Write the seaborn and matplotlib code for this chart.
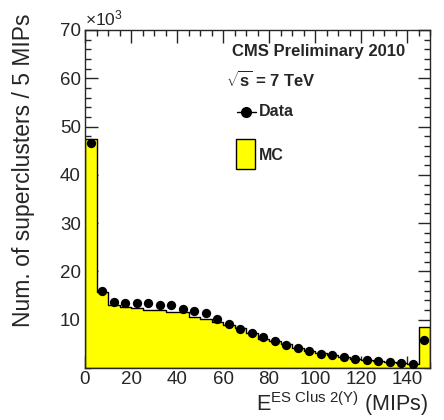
import numpy as np
import pandas as pd
import matplotlib
matplotlib.use('Agg')
import matplotlib.pyplot as plt
import seaborn as sns
from matplotlib.ticker import MultipleLocator
from matplotlib.patches import Rectangle
from matplotlib.lines import Line2D

# bins of 5 MIPs, 0 - 150
bin_edges = np.arange(0, 155, 5)
bin_centers = bin_edges[:-1] + 2.5

# counts in units of 10^3
mc_counts = [47.5, 15.8, 13.0, 12.6, 12.4, 12.1, 12.0, 11.7, 11.5, 10.6,
             10.1, 9.6, 8.9, 8.2, 7.2, 6.1, 5.6, 4.9, 4.2, 3.6,
             3.1, 2.7, 2.3, 1.95, 1.65, 1.4, 1.2, 1.0, 0.85, 8.5]
data_counts = [46.6, 15.9, 13.6, 13.4, 13.4, 13.4, 13.0, 13.0, 12.3, 11.9,
               11.3, 10.1, 9.2, 8.1, 7.3, 6.35, 5.5, 4.8, 4.1, 3.45,
               3.0, 2.6, 2.2, 1.85, 1.6, 1.4, 1.2, 0.97, 0.83, 5.8]

df = pd.DataFrame({"E": bin_centers, "mc": mc_counts, "data": data_counts})

sns.set_style("ticks")
plt.rcParams['font.family'] = ['Liberation Sans', 'DejaVu Sans']
plt.rcParams['mathtext.fontset'] = 'custom'
plt.rcParams['mathtext.rm'] = 'Liberation Sans'
plt.rcParams['mathtext.it'] = 'Liberation Sans'
plt.rcParams['mathtext.bf'] = 'Liberation Sans:bold'

fig = plt.figure(figsize=(4.44, 4.2), dpi=100)
ax = fig.add_axes([85 / 444, 52 / 420, 345 / 444, 338 / 420])

# MC histogram
sns.histplot(data=df, x="E", weights="mc", binwidth=5, binrange=(0, 150),
             element="step", fill=True, color="#ffff00", alpha=1.0,
             edgecolor="black", linewidth=1.0, ax=ax)

# Data points
sns.scatterplot(data=df, x="E", y="data", color="black", s=45,
                edgecolor="black", linewidth=0, zorder=5, ax=ax)

ax.set_xlim(0, 150)
ax.set_ylim(0, 70)
ax.xaxis.set_major_locator(MultipleLocator(20))
ax.xaxis.set_minor_locator(MultipleLocator(5))
ax.set_yticks([10, 20, 30, 40, 50, 60, 70])
ax.yaxis.set_minor_locator(MultipleLocator(2))
ax.tick_params(which='both', direction='in', top=True, right=True,
               labelsize=13.5, width=1)
ax.tick_params(axis='x', pad=2)
ax.tick_params(axis='y', pad=3)
ax.tick_params(which='major', length=9)
ax.tick_params(which='minor', length=4.5)
for sp in ax.spines.values():
    sp.set_linewidth(1)
    sp.set_visible(True)

ax.set_xlabel("")
ax.set_ylabel("")
fig.text(0.964, 0.021, r"E$^{\mathrm{ES\ Clus\ 2(Y)}}$ (MIPs)", fontsize=15.5,
         ha='right', va='baseline')
fig.text(0.052, 0.595, "Num. of superclusters / 5 MIPs", fontsize=16.5,
         rotation=90, ha='center', va='center')

ax.text(0.0, 1.005, r"$\times$10$^3$", transform=ax.transAxes, fontsize=12.5,
        ha='left', va='bottom')

ax.text(0.426, 0.935, "CMS Preliminary 2010", transform=ax.transAxes,
        fontsize=12, fontweight='bold', ha='left', va='center')
ax.text(0.409, 0.852, r"$\sqrt{\mathbf{s}}$ = 7 TeV", transform=ax.transAxes,
        fontsize=12, fontweight='bold', ha='left', va='center')

# legend
ax.add_line(Line2D([0.44, 0.495], [0.758, 0.758], transform=ax.transAxes,
                   color='black', lw=1))
ax.plot([0.468], [0.758], 'o', color='black', ms=7, transform=ax.transAxes)
ax.text(0.505, 0.758, "Data", transform=ax.transAxes, fontsize=11.5,
        fontweight='bold', ha='left', va='center')
ax.add_patch(Rectangle((0.437, 0.589), 0.055, 0.089, transform=ax.transAxes,
                       facecolor='#ffff00', edgecolor='black', lw=1))
ax.text(0.505, 0.63, "MC", transform=ax.transAxes, fontsize=11.5,
        fontweight='bold', ha='left', va='center')

fig.savefig("out.png", dpi=100)
